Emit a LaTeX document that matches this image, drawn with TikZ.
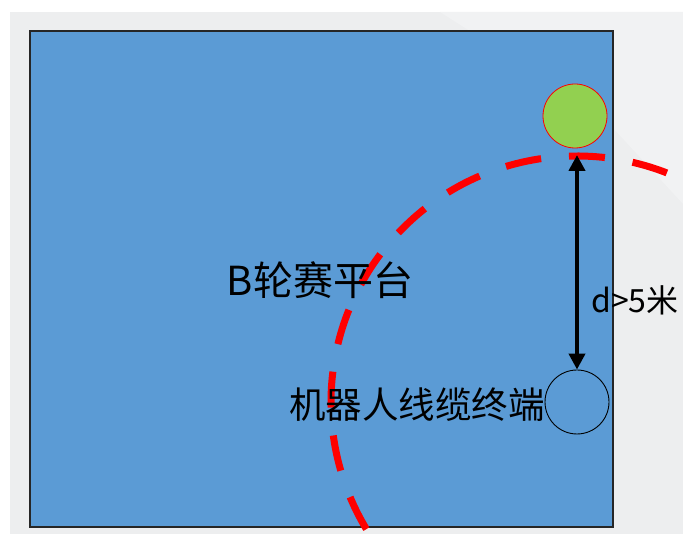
\documentclass[tikz,border=0pt]{standalone}
\usepackage{fontspec}
\setmainfont{Noto Sans CJK SC}
\usetikzlibrary{arrows.meta}
\definecolor{bluefill}{HTML}{5B9BD5}
\definecolor{greenfill}{HTML}{92D050}
\definecolor{bggray}{HTML}{EDEEEF}
\definecolor{bglight}{HTML}{F1F2F3}
\tikzset{
  platform/.style={draw=black!85, line width=1.2pt, fill=bluefill, minimum width=583pt, minimum height=496pt, inner sep=0pt},
  ballnode/.style={circle, draw=red, line width=0.8pt, fill=greenfill, minimum size=64pt, inner sep=0pt},
  cablenode/.style={circle, draw=black, line width=0.9pt, minimum size=64pt, inner sep=0pt},
  redarc/.style={draw=red, line width=7pt, dash pattern=on 36pt off 28pt, dash phase=48.2pt},
  distarrow/.style={draw=black, line width=4.5pt, {Triangle[length=16pt,width=16pt]}-{Triangle[length=16pt,width=16pt]}, shorten <=0pt, shorten >=0pt},
  labeltext/.style={inner sep=0pt, text=black}
}
\begin{document}
\begin{tikzpicture}[x=1pt,y=1pt]
\useasboundingbox (0,0) rectangle (683,534);
\fill[white] (0,0) rectangle (683,534);
\fill[bggray] (10,0) rectangle (683,522);
\fill[bglight] (440,522) -- (683,522) -- (683,330) -- (600,420) -- cycle;
\node[platform] (plat) at (321.5,255) {};
\node[ballnode] (ball) at (575,418) {};
\node[cablenode] (cable) at (577,132) {};
\coordinate (arctop) at (577,379);
\begin{scope}
\clip (0,0) rectangle (683,534);
\draw[redarc] ([shift={(50:246)}]cable.center) arc[start angle=50, end angle=220, radius=246];
\end{scope}
\draw[distarrow] (arctop) -- (cable.north);
\node[labeltext, font=\fontsize{40}{44}\selectfont] (title) at (320,254) {B轮赛平台};
\node[labeltext, font=\fontsize{36.5}{40}\selectfont, anchor=east] (cablelabel) at (545,129) {机器人线缆终端};
\node[labeltext, font=\fontsize{32}{36}\selectfont, anchor=west] (dist) at (591,234) {d>5米};
\end{tikzpicture}
\end{document}
